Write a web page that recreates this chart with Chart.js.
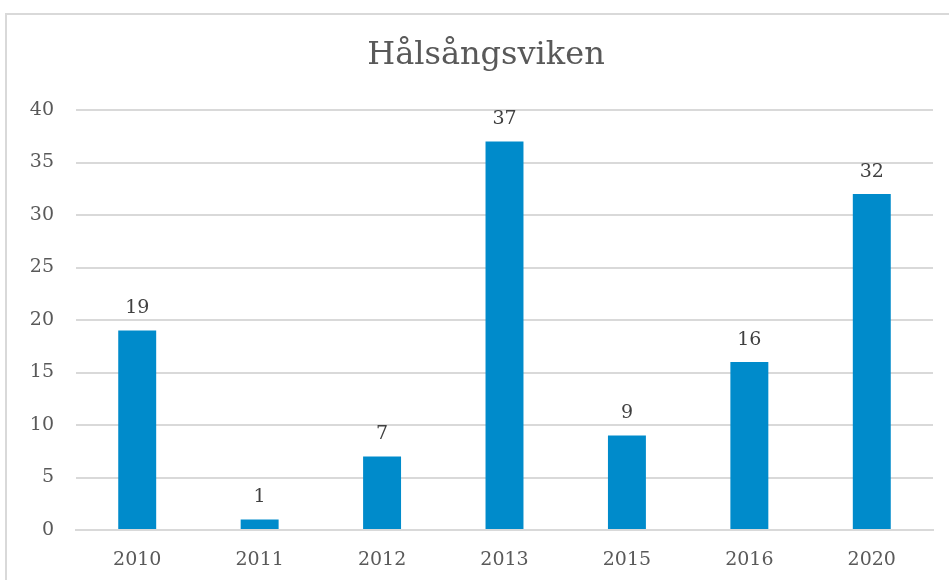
<!DOCTYPE html>
<html>
<head>
<meta charset="utf-8">
<script src="https://cdn.jsdelivr.net/npm/chart.js@4.4.0/dist/chart.umd.min.js"></script>
<style>
  body { margin: 0; background: #fff; overflow: hidden; }
  #frame { position: absolute; left: 5px; top: 13px; width: 980px; height: 600px; border: 2px solid #d9d9d9; box-sizing: border-box; }
  #chart { position: absolute; left: 0; top: 0; }
</style>
</head>
<body>
<div id="frame"></div>
<canvas id="chart" width="949" height="580"></canvas>
<script>
const years = ['2010', '2011', '2012', '2013', '2015', '2016', '2020'];
const counts = [19, 1, 7, 37, 9, 16, 32];
const chartTitle = 'Hålsångsviken';

const fontFamily = "'DejaVu Serif', 'Liberation Serif', serif";

// draws the title and the numbers above the bars
const labelsPlugin = {
    id: 'barLabels',
    afterDatasetsDraw(chart) {
        const ctx = chart.ctx;
        ctx.save();
        ctx.font = '19px ' + fontFamily;
        ctx.fillStyle = '#404040';
        ctx.textAlign = 'center';
        ctx.textBaseline = 'middle';
        chart.getDatasetMeta(0).data.forEach((bar, i) => {
            ctx.fillText(counts[i], bar.x, bar.y - 22);
        });
        ctx.font = '32px ' + fontFamily;
        ctx.fillStyle = '#595959';
        ctx.fillText(chartTitle, 486, 56);
        ctx.restore();
    }
};

const ctx = document.getElementById('chart').getContext('2d');
const chart = new Chart(ctx, {
    type: 'bar',
    data: {
        labels: years,
        datasets: [{
            label: chartTitle,
            data: counts,
            backgroundColor: '#008bcb',
            barPercentage: 0.62,
            categoryPercentage: 0.5
        }]
    },
    options: {
        responsive: false,
        animation: false,
        layout: { padding: { top: 110, right: 16, bottom: 0, left: 0 } },
        scales: {
            x: {
                grid: { display: false, drawTicks: false },
                border: { display: true, color: '#d9d9d9', width: 2 },
                ticks: { color: '#595959', font: { family: fontFamily, size: 19 }, padding: 19 },
                afterFit(scale) { scale.height = 50; }
            },
            y: {
                min: 0,
                max: 40,
                grid: { color: '#d9d9d9', lineWidth: 2, drawTicks: false },
                border: { display: false },
                ticks: { stepSize: 5, color: '#595959', font: { family: fontFamily, size: 19 }, padding: 22 },
                afterFit(scale) { scale.width = 76; }
            }
        },
        plugins: {
            legend: { display: false },
            title: { display: false },
            tooltip: { enabled: false }
        }
    },
    plugins: [labelsPlugin]
});
</script>
</body>
</html>
